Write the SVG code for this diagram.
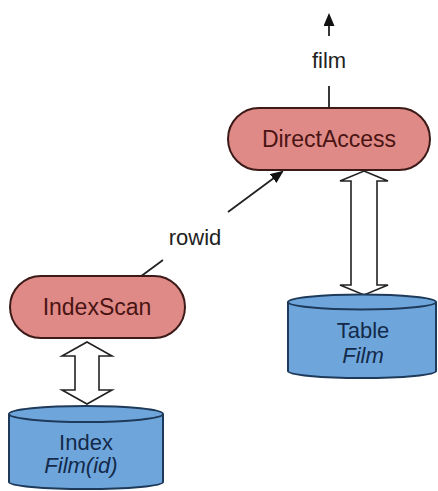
<svg xmlns="http://www.w3.org/2000/svg" width="438" height="491" viewBox="0 0 438 491">
<defs>
<style>
.pill{fill:#df8a86;stroke:#3b1a18;stroke-width:2}
.ptxt{font-family:"Liberation Sans",Arial,sans-serif;font-size:23px;fill:#4a1414;text-anchor:middle}
.cyl{fill:#6ea6dc;stroke:#1e3a5a;stroke-width:2}
.ctxt{font-family:"Liberation Sans",Arial,sans-serif;font-size:22px;fill:#142a4a;text-anchor:middle}
.lbl{font-family:"Liberation Sans",Arial,sans-serif;font-size:22px;fill:#222;text-anchor:middle}
.line{stroke:#222;stroke-width:1.8;fill:none}
.dbl{fill:#fff;stroke:#222;stroke-width:1.6;stroke-linejoin:miter}
</style>
<marker id="ah" markerWidth="13" markerHeight="11" refX="11" refY="5.5" orient="auto" markerUnits="userSpaceOnUse">
<path d="M0,0 L13,5.5 L0,11 Z" fill="#111"/>
</marker>
</defs>
<g id="connectors">
<line class="line" x1="329" y1="108" x2="329" y2="86"/>
<line class="line" x1="329" y1="36" x2="329" y2="15" marker-end="url(#ah)"/>
<line class="line" x1="140" y1="277" x2="163" y2="260"/>
<line class="line" x1="228" y1="212" x2="282" y2="172" marker-end="url(#ah)"/>
<path class="dbl" d="M364,171 L388,181 L377,181 L377,285 L388,285 L364,295 L340,285 L351,285 L351,181 L340,181 Z"/>
<path class="dbl" d="M87,342 L112,356 L99,356 L99,390 L112,390 L87,404 L62,390 L75,390 L75,356 L62,356 Z"/>
<text class="lbl" x="329" y="68">film</text>
<text class="lbl" x="195" y="245">rowid</text>
</g>
<g id="directaccess">
<rect class="pill" x="228" y="108" width="202" height="62" rx="31"/>
<text class="ptxt" x="329" y="147">DirectAccess</text>
</g>
<g id="indexscan">
<rect class="pill" x="10" y="276" width="175" height="62" rx="31"/>
<text class="ptxt" x="97" y="315">IndexScan</text>
</g>
<g id="table">
<path class="cyl" d="M288,302 L288,371 A74,7 0 0 0 436,371 L436,302"/>
<ellipse class="cyl" cx="362" cy="302" rx="74" ry="7.5"/>
<text class="ctxt" x="363" y="338">Table</text>
<text class="ctxt" x="363" y="363" font-style="italic">Film</text>
</g>
<g id="index">
<path class="cyl" d="M9,414 L9,482 A77,7 0 0 0 163,482 L163,414"/>
<ellipse class="cyl" cx="86" cy="414" rx="77" ry="8"/>
<text class="ctxt" x="86" y="450">Index</text>
<text class="ctxt" x="81" y="473" font-style="italic">Film(id)</text>
</g>
</svg>
